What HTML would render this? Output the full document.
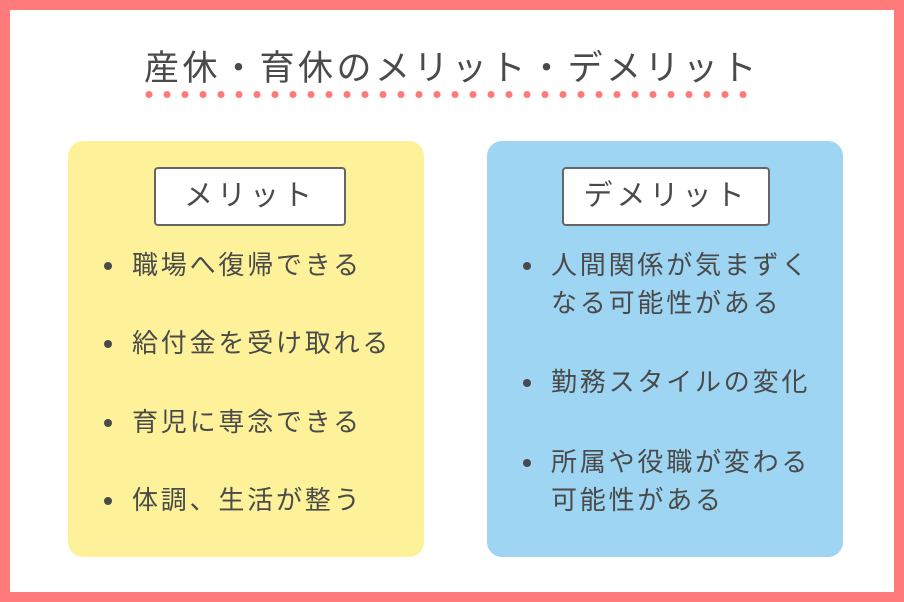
<!DOCTYPE html>
<html><head><meta charset="utf-8"><style>
*{margin:0;padding:0;box-sizing:border-box}
body{width:904px;height:602px;background:#fff;position:relative;overflow:hidden;font-family:"Liberation Sans","Noto Sans CJK JP",sans-serif;color:#4a4a4a}
.frame{position:absolute;left:0;top:0;width:904px;height:602px;border:10px solid #ff7b7b}
.title{position:absolute;left:0;width:904px;top:44px;text-align:center;font-size:35px;line-height:50px;letter-spacing:3.5px;font-weight:400}
.dots{position:absolute;left:140px;top:90px;width:612px;height:9px;background:radial-gradient(circle,#ff7b7b 3.2px,transparent 3.8px) 0 0/18px 9px repeat-x}
.panel{position:absolute;top:141px;width:356px;height:416px;border-radius:15px}
.lab{position:absolute;top:26px;height:59px;background:#fff;border:2px solid #666;border-radius:4px;text-align:center;font-size:29px;line-height:55px;letter-spacing:4px}
.item{position:absolute;left:64px;font-size:26px;line-height:38px;letter-spacing:2.8px;white-space:nowrap}
.item::before{content:"";position:absolute;left:-28px;top:16px;width:8px;height:8px;border-radius:50%;background:#4a4a4a}
</style></head><body>
<div class="frame"></div>
<div class="title">産休・育休のメリット・デメリット</div>
<div class="dots"></div>
<div class="panel" style="left:68px;background:#fdf29a">
<div class="lab" style="left:86px;width:192px">メリット</div>
<div class="item" style="top:105px">職場へ復帰できる</div>
<div class="item" style="top:183px">給付金を受け取れる</div>
<div class="item" style="top:262px">育児に専念できる</div>
<div class="item" style="top:340px">体調、生活が整う</div>
</div>
<div class="panel" style="left:487px;background:#9dd5f3">
<div class="lab" style="left:75px;width:208px">デメリット</div>
<div class="item" style="top:105px">人間関係が気まずく<br>なる可能性がある</div>
<div class="item" style="top:222px">勤務スタイルの変化</div>
<div class="item" style="top:302px">所属や役職が変わる<br>可能性がある</div>
</div>
</body></html>
